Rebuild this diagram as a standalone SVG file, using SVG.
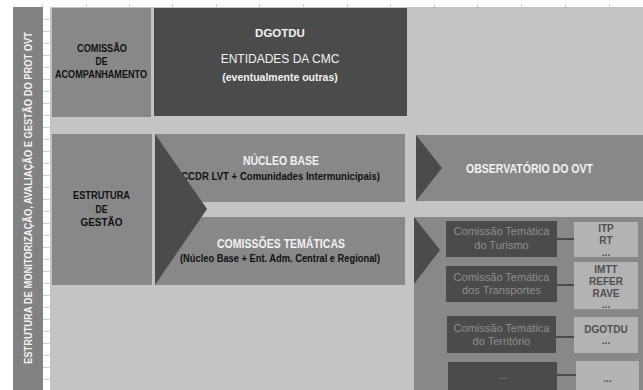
<svg xmlns="http://www.w3.org/2000/svg" width="643" height="390" viewBox="0 0 643 390">
<style>
.bg{fill:#c4c4c4}
.mid{fill:#888888}
.dark{fill:#4b4b4b}
.light{fill:#b3b3b3}
.nar{font-family:"Liberation Sans",Arial,sans-serif;font-weight:bold;text-anchor:middle}
.blk{fill:#111111;font-size:10px}
.wht{fill:#f2f2f2}
.reg{font-family:"Liberation Sans",Arial,sans-serif;text-anchor:middle}
.ct{fill:#8e8e8e;font-size:11px}
.lt{fill:#505050;font-size:10px}
.grid{stroke:#cfcfcf;stroke-width:1}
.conn{stroke:#4b4b4b;stroke-width:2}
</style>
<rect x="0" y="0" width="643" height="390" fill="#ffffff"/>
<rect class="bg" x="50" y="7" width="593" height="383"/>
<g id="ticks" class="grid">
<line x1="42.5" y1="4" x2="42.5" y2="7"/><line x1="86.5" y1="4" x2="86.5" y2="7"/><line x1="129.5" y1="4" x2="129.5" y2="7"/><line x1="172.5" y1="4" x2="172.5" y2="7"/><line x1="216.5" y1="4" x2="216.5" y2="7"/><line x1="259.5" y1="4" x2="259.5" y2="7"/><line x1="303.5" y1="4" x2="303.5" y2="7"/><line x1="347.5" y1="4" x2="347.5" y2="7"/><line x1="390.5" y1="4" x2="390.5" y2="7"/><line x1="434.5" y1="4" x2="434.5" y2="7"/><line x1="477.5" y1="4" x2="477.5" y2="7"/><line x1="521.5" y1="4" x2="521.5" y2="7"/><line x1="565.5" y1="4" x2="565.5" y2="7"/><line x1="609.5" y1="4" x2="609.5" y2="7"/>
</g>
<g id="strip" class="grid">
<rect x="43" y="7" width="7" height="383" fill="#ffffff" stroke="none"/>
<line x1="43" y1="19.5" x2="50" y2="19.5"/><line x1="43" y1="31.5" x2="50" y2="31.5"/><line x1="43" y1="43.5" x2="50" y2="43.5"/><line x1="43" y1="55.5" x2="50" y2="55.5"/><line x1="43" y1="67.5" x2="50" y2="67.5"/><line x1="43" y1="79.5" x2="50" y2="79.5"/><line x1="43" y1="91.5" x2="50" y2="91.5"/><line x1="43" y1="103.5" x2="50" y2="103.5"/><line x1="43" y1="115.5" x2="50" y2="115.5"/><line x1="43" y1="127.5" x2="50" y2="127.5"/><line x1="43" y1="139.5" x2="50" y2="139.5"/><line x1="43" y1="151.5" x2="50" y2="151.5"/><line x1="43" y1="163.5" x2="50" y2="163.5"/><line x1="43" y1="175.5" x2="50" y2="175.5"/><line x1="43" y1="187.5" x2="50" y2="187.5"/><line x1="43" y1="199.5" x2="50" y2="199.5"/><line x1="43" y1="211.5" x2="50" y2="211.5"/><line x1="43" y1="223.5" x2="50" y2="223.5"/><line x1="43" y1="235.5" x2="50" y2="235.5"/><line x1="43" y1="247.5" x2="50" y2="247.5"/><line x1="43" y1="259.5" x2="50" y2="259.5"/><line x1="43" y1="271.5" x2="50" y2="271.5"/><line x1="43" y1="283.5" x2="50" y2="283.5"/><line x1="43" y1="295.5" x2="50" y2="295.5"/><line x1="43" y1="307.5" x2="50" y2="307.5"/><line x1="43" y1="319.5" x2="50" y2="319.5"/><line x1="43" y1="331.5" x2="50" y2="331.5"/><line x1="43" y1="343.5" x2="50" y2="343.5"/><line x1="43" y1="355.5" x2="50" y2="355.5"/><line x1="43" y1="367.5" x2="50" y2="367.5"/><line x1="43" y1="379.5" x2="50" y2="379.5"/>
</g>
<g id="side-bar">
<rect x="13" y="7" width="30" height="383" fill="#828282"/>
<text class="nar wht" font-size="10" transform="translate(32,198) rotate(-90)" textLength="332" lengthAdjust="spacingAndGlyphs">ESTRUTURA DE MONITORIZAÇÃO, AVALIAÇÃO  E GESTÃO DO PROT OVT</text>
</g>
<g id="comissao-acompanhamento">
<rect class="mid" x="52" y="8" width="99" height="109"/>
<text class="nar blk" x="102" y="52" textLength="50" lengthAdjust="spacingAndGlyphs">COMISSÃO</text>
<text class="nar blk" x="101.5" y="65" textLength="12" lengthAdjust="spacingAndGlyphs">DE</text>
<text class="nar blk" x="101" y="78" textLength="92" lengthAdjust="spacingAndGlyphs">ACOMPANHAMENTO</text>
</g>
<g id="dgotdu">
<rect class="dark" x="154" y="8" width="253" height="108"/>
<text class="reg wht" font-size="11.5" font-weight="bold" x="280" y="37">DGOTDU</text>
<text class="reg wht" font-size="12" x="280" y="63">ENTIDADES DA CMC</text>
<text class="reg wht" font-size="10.5" font-weight="bold" x="280" y="81">(eventualmente outras)</text>
</g>
<g id="estrutura-gestao">
<rect class="mid" x="52" y="134" width="100" height="151"/>
<text class="nar blk" x="101.5" y="199" textLength="57" lengthAdjust="spacingAndGlyphs">ESTRUTURA</text>
<text class="nar blk" x="101.5" y="213" textLength="12" lengthAdjust="spacingAndGlyphs">DE</text>
<text class="nar blk" x="101.5" y="226" textLength="42" lengthAdjust="spacingAndGlyphs">GESTÃO</text>
</g>
<g id="nucleo-base">
<rect class="mid" x="155" y="134" width="250" height="68"/>
<text class="nar wht" font-size="12" x="281" y="165" textLength="76" lengthAdjust="spacingAndGlyphs">NÚCLEO BASE</text>
<text class="nar blk" font-size="10" x="279" y="180" textLength="202" lengthAdjust="spacingAndGlyphs">(CCDR LVT + Comunidades Intermunicipais)</text>
</g>
<g id="comissoes-tematicas">
<rect class="mid" x="155" y="217" width="250" height="68"/>
<text class="nar wht" font-size="13" x="281" y="248" textLength="128" lengthAdjust="spacingAndGlyphs">COMISSÕES TEMÁTICAS</text>
<text class="nar blk" font-size="10" x="280" y="262" textLength="200" lengthAdjust="spacingAndGlyphs">(Núcleo Base + Ent. Adm. Central e Regional)</text>
</g>
<g id="arrow-gestao">
<polygon class="dark" points="155,134 207,209 155,285"/>
</g>
<g id="observatorio">
<rect class="mid" x="416" y="135" width="227" height="66"/>
<polygon class="dark" points="416,135 442,168 416,201"/>
<text class="nar wht" font-size="12" x="529.5" y="173" textLength="127" lengthAdjust="spacingAndGlyphs">OBSERVATÓRIO DO OVT</text>
</g>
<g id="painel-comissoes">
<rect class="mid" x="414" y="217" width="229" height="173"/>
<polygon class="dark" points="414,217 440,250 414,284"/>
</g>
<g id="connectors">
<line class="conn" x1="557" y1="239" x2="574" y2="239"/>
<line class="conn" x1="557" y1="285" x2="574" y2="285"/>
<line class="conn" x1="556" y1="337" x2="574" y2="337"/>
<line class="conn" x1="557" y1="375" x2="576" y2="375"/>
</g>
<g id="ct-turismo">
<rect class="dark" x="446" y="221" width="111" height="36"/>
<text class="reg ct" x="501.5" y="235">Comissão Temática</text>
<text class="reg ct" x="501.5" y="249">do Turismo</text>
</g>
<g id="ent-turismo">
<rect class="light" x="574" y="222" width="64" height="35"/>
<text class="reg lt" font-weight="bold" x="606" y="232">ITP</text>
<text class="reg lt" font-weight="bold" x="606" y="244">RT</text>
<text class="reg lt" font-weight="bold" x="606" y="256">...</text>
</g>
<g id="ct-transportes">
<rect class="dark" x="446" y="266" width="111" height="36"/>
<text class="reg ct" x="501.5" y="281">Comissão Temática</text>
<text class="reg ct" x="501.5" y="294">dos Transportes</text>
</g>
<g id="ent-transportes">
<rect class="light" x="574" y="262" width="64" height="47"/>
<text class="reg lt" font-weight="bold" x="606" y="273">IMTT</text>
<text class="reg lt" font-weight="bold" x="606" y="285">REFER</text>
<text class="reg lt" font-weight="bold" x="606" y="297">RAVE</text>
<text class="reg lt" font-weight="bold" x="606" y="308">...</text>
</g>
<g id="ct-territorio">
<rect class="dark" x="447" y="316" width="109" height="37"/>
<text class="reg ct" x="501.5" y="332">Comissão Temática</text>
<text class="reg ct" x="501.5" y="345">do Território</text>
</g>
<g id="ent-territorio">
<rect class="light" x="574" y="317" width="64" height="36"/>
<text class="reg lt" font-weight="bold" x="606" y="333">DGOTDU</text>
<text class="reg lt" font-weight="bold" x="606" y="344">...</text>
</g>
<g id="ct-outras">
<rect class="dark" x="448" y="362" width="109" height="28"/>
<text class="reg ct" x="502.5" y="379">...</text>
</g>
<g id="ent-outras">
<rect class="light" x="576" y="361" width="63" height="29"/>
<text class="reg lt" font-weight="bold" x="607.5" y="382">...</text>
</g>
</svg>
